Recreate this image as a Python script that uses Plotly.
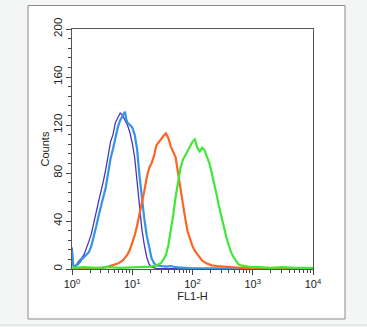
import plotly.graph_objects as go

# ---- data (log10 channel position, counts) ----
purple_log = [0.00, 0.02, 0.04, 0.08, 0.12, 0.16, 0.20, 0.24, 0.28, 0.32, 0.36, 0.40, 0.44, 0.48, 0.52,
              0.56, 0.60, 0.64, 0.68, 0.72, 0.76, 0.80, 0.84, 0.88, 0.92, 0.96, 1.00, 1.04, 1.08, 1.12,
              1.16, 1.20, 1.24, 1.28, 1.32, 1.40, 2.00, 3.00, 4.00]
purple_cnt = [18, 4, 2, 4, 7, 9, 12, 17, 23, 29, 37, 47, 56, 64, 73,
              83, 95, 106, 112, 122, 126, 130, 128, 124, 120, 114, 105, 93, 72, 50,
              33, 20, 10, 4, 1.5, 0.5, 0.3, 0.3, 0.3]

blue_log = [0.00, 0.02, 0.04, 0.08, 0.12, 0.16, 0.20, 0.24, 0.28, 0.32, 0.36, 0.40, 0.44, 0.48, 0.52,
            0.56, 0.60, 0.64, 0.68, 0.72, 0.76, 0.80, 0.84, 0.88, 0.90, 0.92, 0.96, 1.00, 1.04, 1.08,
            1.12, 1.16, 1.20, 1.24, 1.28, 1.32, 1.36, 1.40, 1.48, 1.56, 1.64, 1.72, 1.80, 1.90, 2.00,
            3.00, 4.00]
blue_cnt = [16, 3, 1.5, 3, 5, 8, 10, 12, 14, 19, 26, 35, 44, 53, 60,
            68, 80, 92, 100, 110, 118, 124, 127, 131, 125, 122, 120, 118, 112, 100,
            78, 58, 42, 28, 17, 9, 5, 3, 2.5, 2, 2.5, 1.5, 1.2, 1, 0.6,
            0.5, 0.5]

orange_log = [0.00, 0.40, 0.50, 0.60, 0.68, 0.76, 0.84, 0.92, 0.96, 1.00, 1.04, 1.08, 1.12, 1.16, 1.20,
              1.24, 1.28, 1.32, 1.36, 1.40, 1.44, 1.48, 1.52, 1.56, 1.60, 1.64, 1.68, 1.72, 1.76, 1.80,
              1.84, 1.88, 1.92, 1.96, 2.00, 2.04, 2.08, 2.12, 2.16, 2.24, 2.32, 2.40, 2.50, 2.60, 2.70,
              2.80, 2.90, 3.00, 4.00]
orange_cnt = [0.5, 0.5, 1, 2, 3, 4.5, 7, 12, 16, 22, 28, 36, 45, 55, 65,
              76, 84, 88, 94, 103, 106, 108, 111, 113, 109, 102, 97, 93, 80, 66,
              55, 42, 31, 24, 19, 15, 12, 9, 7, 4.5, 3, 2.5, 2, 1.5, 1.5,
              1, 0.8, 0.5, 0.5]

green_log = [0.00, 0.20, 0.40, 0.60, 0.80, 1.00, 1.20, 1.32, 1.40, 1.48, 1.52, 1.56, 1.60, 1.64, 1.68,
             1.72, 1.76, 1.80, 1.84, 1.88, 1.92, 1.96, 2.00, 2.04, 2.06, 2.08, 2.12, 2.16, 2.20, 2.24,
             2.28, 2.32, 2.36, 2.40, 2.44, 2.48, 2.52, 2.56, 2.60, 2.64, 2.68, 2.72, 2.76, 2.80, 2.88,
             2.96, 3.10, 3.30, 3.50, 3.70, 4.00]
green_cnt = [1, 1.5, 1, 1.5, 1, 1.5, 1.5, 2, 3, 5, 8, 12, 20, 32, 45,
             60, 72, 84, 91, 95, 99, 103, 106, 108, 104, 101, 98, 101, 99, 94,
             88, 80, 72, 62, 52, 43, 35, 27, 20, 14, 10, 7, 4, 3, 2,
             1.5, 1.5, 1, 1.5, 1, 1]

y_ticks = [0, 40, 80, 120, 160, 200]
x_ticks = [1, 10, 100, 1000, 10000]
x_ticktext = ["10<sup>0</sup>", "10<sup>1</sup>", "10<sup>2</sup>", "10<sup>3</sup>", "10<sup>4</sup>"]
x_minor = [m * d for d in [1, 10, 100, 1000] for m in range(2, 10)]

series = [
    ("purple", purple_log, purple_cnt, "#4a35c0", 1.3),
    ("blue", blue_log, blue_cnt, "#3594e8", 2.2),
    ("orange", orange_log, orange_cnt, "#ff6424", 2.2),
    ("green", green_log, green_cnt, "#3fe838", 2.2),
]

fig = go.Figure()
for name, lx, cnt, col, w in series:
    fig.add_trace(go.Scatter(
        x=[10 ** v for v in lx], y=cnt, mode="lines", name=name,
        line=dict(color=col, width=w), showlegend=False,
    ))

W, H = 367, 327
L, R, T, B = 72, 54, 29, 58
pw, ph = W - L - R, H - T - B

def px(x):
    return (x - L) / pw

def py(y):
    return (H - B - y) / ph

fig.add_shape(type="rect", xref="paper", yref="paper",
              x0=px(28), x1=px(345), y0=py(319), y1=py(5.5),
              fillcolor="white", line=dict(color="#8a8a8a", width=1), layer="below")
fig.add_shape(type="line", xref="paper", yref="paper",
              x0=px(0), x1=px(367), y0=py(325), y1=py(325),
              line=dict(color="#dcdcdc", width=1), layer="below")

fig.update_layout(
    width=W, height=H,
    margin=dict(l=L, r=R, t=T, b=B),
    paper_bgcolor="#f4f5f5",
    plot_bgcolor="white",
    font=dict(family="Liberation Sans, Arial, sans-serif", size=11, color="#222"),
    xaxis=dict(
        type="log", range=[0, 4], tickvals=x_ticks, ticktext=x_ticktext,
        ticks="outside", ticklen=5, tickcolor="#444", showgrid=False, zeroline=False,
        showline=True, linecolor="#555", linewidth=1, mirror=True,
        minor=dict(tickvals=x_minor, ticks="outside", ticklen=3, tickcolor="#444", showgrid=False),
        title=dict(text="FL1-H", font=dict(size=11), standoff=2),
        tickfont=dict(size=11),
    ),
    yaxis=dict(
        range=[0, 200], tickvals=y_ticks, tickangle=-90,
        ticks="outside", ticklen=5, tickcolor="#444", showgrid=False, zeroline=False,
        showline=True, linecolor="#555", linewidth=1, mirror=True,
        minor=dict(dtick=8, ticks="outside", ticklen=3, tickcolor="#444", showgrid=False),
        title=dict(text="Counts", font=dict(size=11), standoff=0),
        tickfont=dict(size=11.5),
        ticklabelstandoff=-1,
    ),
)

fig.write_html("out.html")
